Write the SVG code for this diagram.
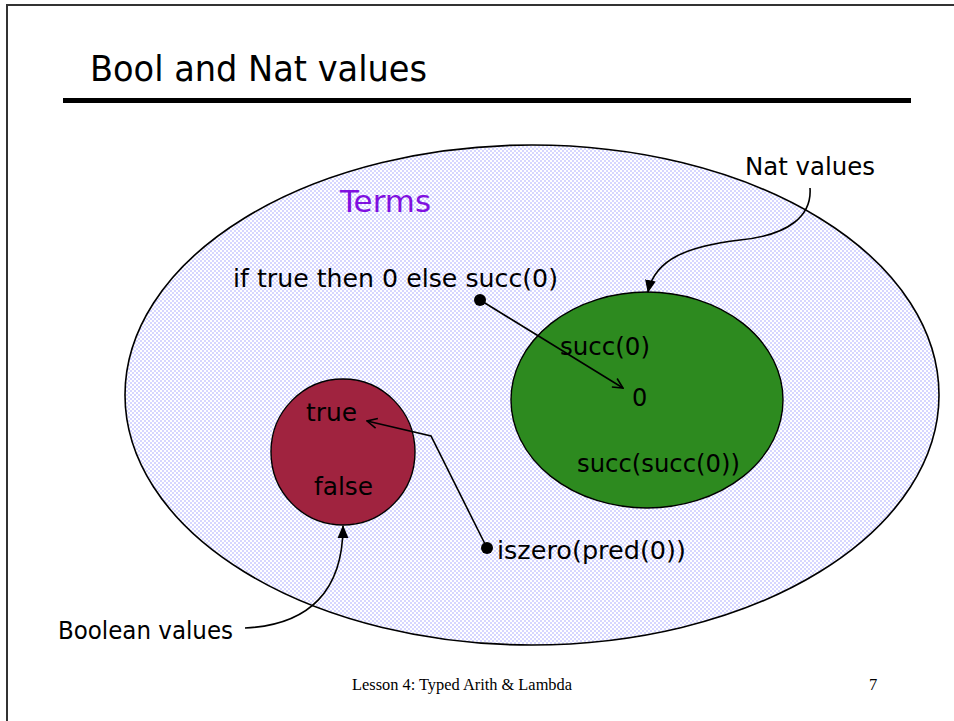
<svg xmlns="http://www.w3.org/2000/svg" width="954" height="721" viewBox="0 0 954 721">
<style>
.t{font-family:"DejaVu Sans","Open Sans",sans-serif;fill:#000}
.c{fill:none;stroke:#000;stroke-width:1.6}
</style>
<defs>
<pattern id="chk" width="4" height="4" patternUnits="userSpaceOnUse">
<rect width="4" height="4" fill="#ffffff"/>
<rect width="2" height="2" fill="#d6d6ff"/>
<rect x="2" y="2" width="2" height="2" fill="#d6d6ff"/>
</pattern>
<marker id="v" viewBox="0 0 12 12" refX="11" refY="6" markerWidth="12" markerHeight="12" markerUnits="userSpaceOnUse" orient="auto">
<path d="M1,1 L11,6 L1,11" fill="none" stroke="#000" stroke-width="1.6"/>
</marker>
<marker id="f" viewBox="0 0 12 12" refX="11" refY="6" markerWidth="13" markerHeight="13" markerUnits="userSpaceOnUse" orient="auto">
<path d="M0,1 L12,6 L0,11 Z" fill="#000"/>
</marker>
</defs>
<rect width="954" height="721" fill="#fff"/>
<path d="M7,721 L7,5 L954,5" fill="none" stroke="#333" stroke-width="2"/>
<text class="t" x="90" y="81" font-size="36" textLength="337" lengthAdjust="spacingAndGlyphs">Bool and Nat values</text>
<rect x="63" y="98" width="848" height="5" fill="#000"/>

<g id="terms">
<ellipse cx="532" cy="395" rx="407" ry="250" fill="url(#chk)" stroke="#000" stroke-width="1.6"/>
<text class="t" x="340" y="212" font-size="30" style="fill:#8010e0" textLength="91" lengthAdjust="spacingAndGlyphs">Terms</text>
</g>
<g id="nat">
<ellipse cx="647" cy="400" rx="136" ry="108" fill="#2d8a1f" stroke="#000" stroke-width="1.4"/>
<text class="t" x="560" y="355" font-size="24" textLength="90" lengthAdjust="spacingAndGlyphs">succ(0)</text>
<text class="t" x="632" y="406" font-size="24">0</text>
<text class="t" x="577" y="472" font-size="24" textLength="163" lengthAdjust="spacingAndGlyphs">succ(succ(0))</text>
</g>
<g id="bool">
<ellipse cx="343" cy="452" rx="72" ry="73" fill="#a0233f" stroke="#000" stroke-width="1.4"/>
<text class="t" x="306" y="421" font-size="24" textLength="51" lengthAdjust="spacingAndGlyphs">true</text>
<text class="t" x="314" y="495" font-size="24" textLength="59" lengthAdjust="spacingAndGlyphs">false</text>
</g>
<g id="ifterm">
<text class="t" x="233" y="287" font-size="24" textLength="325" lengthAdjust="spacingAndGlyphs">if true then 0 else succ(0)</text>
<circle cx="480" cy="300" r="6" fill="#000"/>
</g>
<g id="iszero">
<text class="t" x="497" y="559" font-size="24" textLength="189" lengthAdjust="spacingAndGlyphs">iszero(pred(0))</text>
<circle cx="487" cy="548" r="6" fill="#000"/>
</g>
<g id="natlabel">
<text class="t" x="745" y="175" font-size="24" textLength="130" lengthAdjust="spacingAndGlyphs">Nat values</text>
</g>
<g id="boollabel">
<text class="t" x="58" y="639" font-size="24" textLength="175" lengthAdjust="spacingAndGlyphs">Boolean values</text>
</g>
<g id="connectors">
<path class="c" d="M480,300 L623,388" marker-end="url(#v)"/>
<path class="c" d="M487,548 L431,436 L367,421" marker-end="url(#v)"/>
<path class="c" d="M810,188 C812,215 790,235 740,240 C690,246 655,258 648,292" marker-end="url(#f)"/>
<path class="c" d="M245,628 C310,625 343,590 343,526" marker-end="url(#f)"/>
</g>
<text x="352" y="690" font-family="Liberation Serif,serif" font-size="16.5" textLength="220" lengthAdjust="spacingAndGlyphs">Lesson 4: Typed Arith &amp; Lambda</text>
<text x="869" y="690" font-family="Liberation Serif,serif" font-size="16.5">7</text>
</svg>
